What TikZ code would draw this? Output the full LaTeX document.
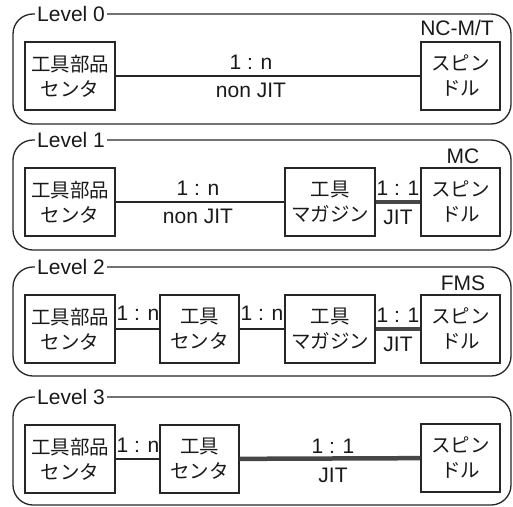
\documentclass[tikz,border=0pt]{standalone}
\usepackage{fontspec}
\setmainfont{Liberation Sans}
\newfontfamily\jpfont{Noto Sans CJK JP}
\begin{document}
\begin{tikzpicture}[x=1pt,y=-1pt,
  panel/.style={draw=black!85, line width=1.3pt, rounded corners=20pt},
  box/.style={draw=black!85, line width=1.3pt, minimum height=68pt, inner sep=0pt, align=center,
    font=\jpfont\fontsize{19.5}{25}\selectfont, text=black!90},
  wbox/.style={box, minimum width=90pt},
  nbox/.style={box, minimum width=79pt},
  lbl/.style={font=\fontsize{21}{24}\selectfont, text=black!90, inner sep=0pt},
  legend/.style={lbl, fill=white, inner xsep=2pt, inner ysep=1pt, anchor=west},
  thinlink/.style={draw=black!85, line width=1.2pt},
  thicklink/.style={draw=black!72, line width=4.5pt},
]
\useasboundingbox (0,0) rectangle (513,506);

% ---------- Level 0 ----------
\draw[panel] (13,14) rectangle (511,124);
\node[legend] (L0) at (35,14) {Level 0};
\node[lbl] (T0) at (457,28) {NC-M/T};
\node[wbox] (A0) at (70,76) {工具部品\\センタ};
\node[nbox] (S0) at (460.5,76) {スピン\\ドル};
\draw[thinlink] (A0) -- (S0);
\node[lbl] (a0) at (251,62) {1 : n};
\node[lbl] (b0) at (251,90) {non JIT};

% ---------- Level 1 ----------
\draw[panel] (13,140) rectangle (511,250);
\node[legend] (L1) at (35,140) {Level 1};
\node[lbl] (T1) at (463,156) {MC};
\node[wbox] (A1) at (70,202) {工具部品\\センタ};
\node[wbox] (M1) at (330,202) {工具\\マガジン};
\node[nbox] (S1) at (460.5,202) {スピン\\ドル};
\draw[thinlink] (A1) -- (M1);
\draw[thicklink] (M1) -- (S1);
\node[lbl] (a1) at (198,188) {1 : n};
\node[lbl] (b1) at (198,216) {non JIT};
\node[lbl] (c1) at (398,188) {1 : 1};
\node[lbl] (d1) at (398,217) {JIT};

% ---------- Level 2 ----------
\draw[panel] (13,267) rectangle (511,376);
\node[legend] (L2) at (35,267) {Level 2};
\node[lbl] (T2) at (463,283) {FMS};
\node[wbox] (A2) at (70,329) {工具部品\\センタ};
\node[nbox] (C2) at (199.5,329) {工具\\センタ};
\node[wbox] (M2) at (330,329) {工具\\マガジン};
\node[nbox] (S2) at (460.5,329) {スピン\\ドル};
\draw[thinlink] (A2) -- (C2);
\draw[thinlink] (C2) -- (M2);
\draw[thicklink] (M2) -- (S2);
\node[lbl] (a2) at (138,313) {1 : n};
\node[lbl] (b2) at (262,313) {1 : n};
\node[lbl] (c2) at (398,315) {1 : 1};
\node[lbl] (d2) at (398,344) {JIT};

% ---------- Level 3 ----------
\draw[panel] (13,397) rectangle (511,505);
\node[legend] (L3) at (35,397) {Level 3};
\node[wbox] (A3) at (70,459) {工具部品\\センタ};
\node[nbox] (C3) at (199.5,459) {工具\\センタ};
\node[nbox] (S3) at (460.5,458) {スピン\\ドル};
\draw[thinlink] (A3) -- (C3);
\draw[thicklink] (C3) -- (S3);
\node[lbl] (a3) at (138,445) {1 : n};
\node[lbl] (c3) at (333,446) {1 : 1};
\node[lbl] (d3) at (333,475) {JIT};
\end{tikzpicture}
\end{document}
